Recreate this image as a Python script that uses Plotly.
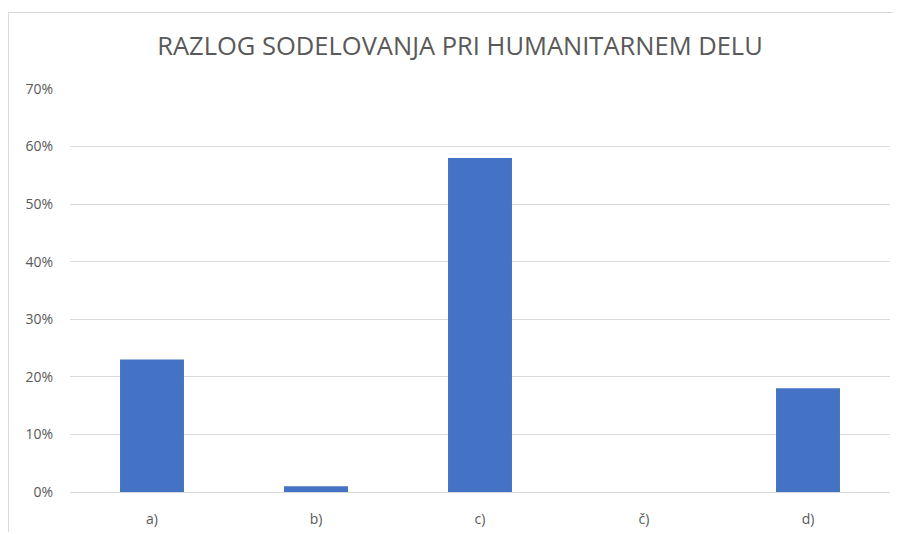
import plotly.graph_objects as go

categories = ["a)", "b)", "c)", "č)", "d)"]
values = [0.23, 0.01, 0.58, 0.0, 0.18]
y_ticks = [0, 0.1, 0.2, 0.3, 0.4, 0.5, 0.6, 0.7]
y_tick_labels = ["0%", "10%", "20%", "30%", "40%", "50%", "60%", "70%"]

# page body adds an 8px margin all round, keep the figure inside the window
W, H = 885, 524
ml, mr, mt, mb = 62, 3, 81, 40

fig = go.Figure()
fig.add_trace(go.Bar(
    x=categories,
    y=values,
    marker=dict(color="#4472c4", line=dict(width=0)),
    hoverinfo="none",
    showlegend=False,
))

# chart frame: only top and left edges are visible in the crop
pw = W - ml - mr
ph = H - mt - mb
fx0 = (0.5 - ml) / pw
fx1 = (W + 20 - ml) / pw
fy1 = (H - 4.5 - mb) / ph
fy0 = (H - 540 - mb) / ph
frame_line = dict(color="#d9d9d9", width=1)

fig.update_layout(
    width=W, height=H,
    margin=dict(l=ml, r=mr, t=mt, b=mb),
    paper_bgcolor="white",
    plot_bgcolor="white",
    bargap=0.61,
    font=dict(family="Open Sans", color="#595959", size=15),
    title=dict(
        text="RAZLOG SODELOVANJA PRI HUMANITARNEM DELU",
        x=452 / W, xanchor="center", xref="container",
        y=1 - 38 / H, yanchor="middle", yref="container",
        font=dict(family="Open Sans", size=25.5, color="#595959"),
    ),
    xaxis=dict(
        showgrid=False,
        showline=True, linecolor="#d9d9d9", linewidth=1,
        ticks="", tickfont=dict(size=14, color="#595959"),
        ticklabelstandoff=14,
        automargin=False,
        fixedrange=True,
    ),
    yaxis=dict(
        range=[0, 0.7],
        tickvals=y_ticks, ticktext=y_tick_labels,
        showgrid=True, gridcolor="#d9d9d9", gridwidth=1,
        zeroline=False, showline=False, ticks="",
        ticklabelstandoff=16,
        tickfont=dict(size=14, color="#595959"),
        automargin=False,
        fixedrange=True,
    ),
    shapes=[
        dict(type="line", xref="paper", yref="paper",
             x0=fx0, x1=fx1, y0=fy1, y1=fy1, line=frame_line, layer="below"),
        dict(type="line", xref="paper", yref="paper",
             x0=fx0, x1=fx0, y0=fy0, y1=fy1, line=frame_line, layer="below"),
    ],
)

fig.write_html("out.html")
